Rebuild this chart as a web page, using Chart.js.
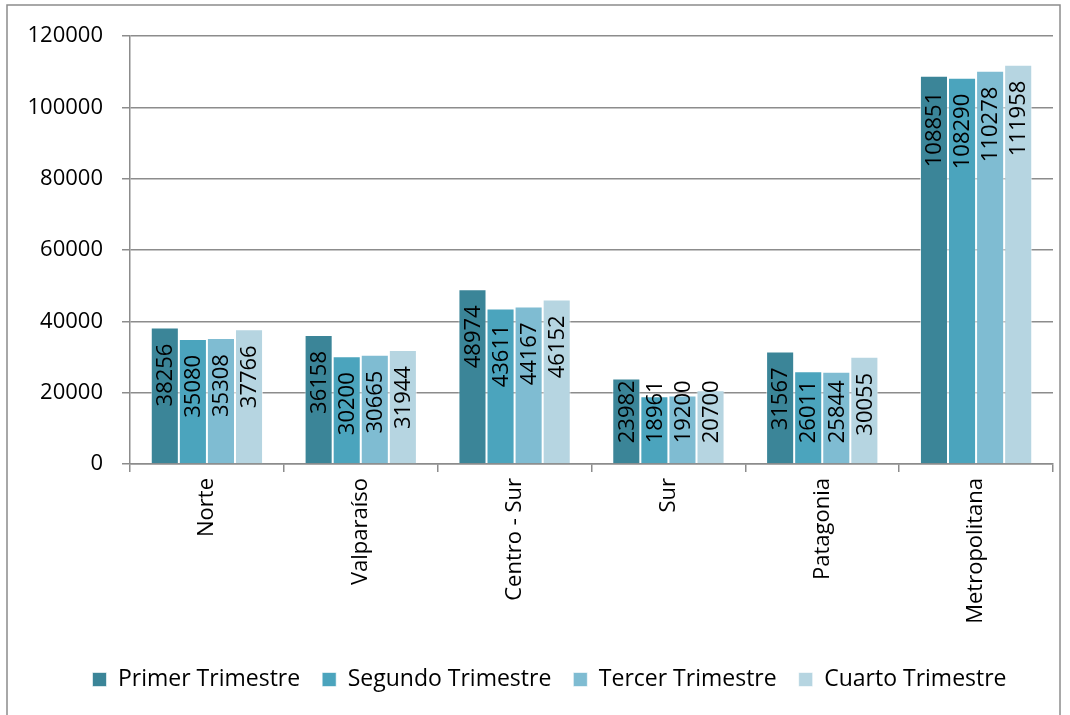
<!DOCTYPE html>
<html>
<head>
<meta charset="utf-8">
<script src="https://cdn.jsdelivr.net/npm/chart.js@4.4.0/dist/chart.umd.min.js"></script>
<style>
  html, body { margin: 0; padding: 0; background: #fff; }
  #wrap { position: relative; width: 1070px; height: 715px; }
</style>
</head>
<body>
<div id="wrap"><canvas id="chart" width="1070" height="715"></canvas></div>
<script>
// Regions and quarterly values
const regions = ['Norte', 'Valparaíso', 'Centro - Sur', 'Sur', 'Patagonia', 'Metropolitana'];
const primer  = [38256, 36158, 48974, 23982, 31567, 108851];
const segundo = [35080, 30200, 43611, 18961, 26011, 108290];
const tercer  = [35308, 30665, 44167, 19200, 25844, 110278];
const cuarto  = [37766, 31944, 46152, 20700, 30055, 111958];
const seriesNames = ['Primer Trimestre', 'Segundo Trimestre', 'Tercer Trimestre', 'Cuarto Trimestre'];
const seriesColors = ['#3B8598', '#4BA4BD', '#7FBCD2', '#B6D5E1'];

const FONT = '"Open Sans", "Noto Sans", sans-serif';
const GRID = '#8c8c8c';

// value labels, rotated, placed just inside the top of each bar
const barLabels = {
    id: 'barLabels',
    afterDatasetsDraw(chart) {
        const ctx = chart.ctx;
        ctx.save();
        ctx.font = '22px ' + FONT;
        ctx.fillStyle = '#000';
        ctx.textAlign = 'right';
        ctx.textBaseline = 'middle';
        chart.data.datasets.forEach((ds, i) => {
            const meta = chart.getDatasetMeta(i);
            meta.data.forEach((bar, j) => {
                const txt = String(ds.data[j]);
                const w = ctx.measureText(txt).width;
                const top = Math.min(bar.y + 16, bar.base - 20 - w);
                ctx.save();
                ctx.translate(bar.x, top);
                ctx.rotate(-Math.PI / 2);
                ctx.fillText(txt, 0, 1);
                ctx.restore();
            });
        });
        ctx.restore();
    }
};

// outer frame of the chart object
const frame = {
    id: 'frame',
    afterDraw(chart) {
        const ctx = chart.ctx;
        ctx.save();
        ctx.strokeStyle = GRID;
        ctx.lineWidth = 1.5;
        ctx.strokeRect(7, 5, 1053, 712);
        ctx.restore();
    }
};

// legend in the reference sits a bit right of the canvas centre
const legendShift = {
    id: 'legendShift',
    afterUpdate(chart) {
        if (chart.legend) {
            chart.legend.left += 23;
            chart.legend.right += 23;
        }
    }
};

const datasets = [primer, segundo, tercer, cuarto].map((vals, i) => ({
    label: seriesNames[i],
    data: vals,
    backgroundColor: seriesColors[i],
    borderColor: 'rgba(255,255,255,0.6)',
    borderWidth: 1,
    categoryPercentage: 0.73,
    barPercentage: 1
}));

new Chart(document.getElementById('chart'), {
    type: 'bar',
    data: { labels: regions, datasets: datasets },
    options: {
        responsive: false,
        animation: false,
        layout: { padding: { top: 36, right: 17, left: 0, bottom: 14 } },
        scales: {
            y: {
                min: 0,
                max: 120000,
                ticks: {
                    stepSize: 20000, color: '#000', font: { family: FONT, size: 22 }, padding: 19,
                    callback: (v) => String(v)
                },
                grid: { color: GRID, lineWidth: 1.5, tickLength: 8 },
                border: { color: GRID, width: 1.5 },
                afterFit(scale) { scale.width = 130; }
            },
            x: {
                ticks: { color: '#000', font: { family: FONT, size: 22 }, minRotation: 90, maxRotation: 90, padding: 6 },
                grid: { offset: true, drawOnChartArea: false, color: GRID, lineWidth: 1.5, tickLength: 8 },
                border: { color: GRID, width: 1.5 },
                afterFit(scale) { scale.height = 182; }
            }
        },
        plugins: {
            legend: {
                position: 'bottom',
                labels: {
                    color: '#000',
                    font: { family: FONT, size: 23 },
                    boxWidth: 14,
                    boxHeight: 14,
                    padding: 22
                }
            },
            tooltip: { enabled: false }
        }
    },
    plugins: [barLabels, frame, legendShift]
});
</script>
</body>
</html>
